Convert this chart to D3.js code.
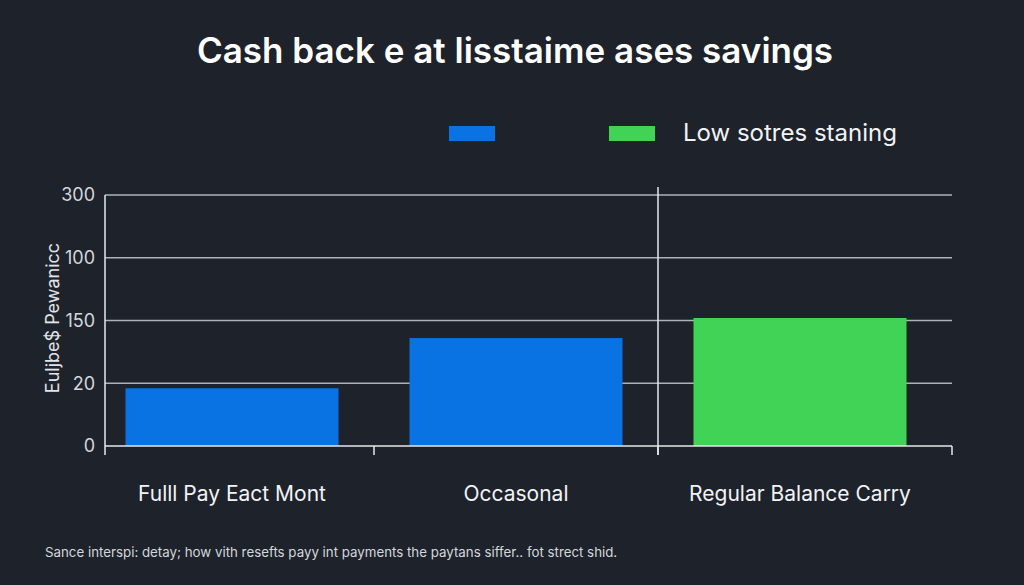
<!DOCTYPE html>
<html>
<head>
<meta charset="utf-8">
<script src="https://cdn.jsdelivr.net/npm/d3@7"></script>
<style>
	html, body { margin: 0; padding: 0; background: #1d222b; }
	svg { display: block; font-family: "Inter", "Noto Sans", sans-serif; }
</style>
</head>
<body>
<svg id="chart" width="1024" height="585"></svg>
<script>
// chart data
const categories = ["Fulll Pay Eact Mont", "Occasonal", "Regular Balance Carry"];
const levels = [0.92, 1.72, 2.04]; // bar heights, in tick steps
const barSeries = ["blue", "blue", "green"];
const tickLabels = ["0", "20", "150", "100", "300"];
const legendLabels = ["", "Low sotres staning"];

const colors = { blue: "#0a73e4", green: "#41d356" };

const svg = d3.select("#chart");
const plotLeft = 105, plotRight = 952, plotTop = 195, plotBottom = 446;

// scales
const y = d3.scaleLinear()
	.domain([0, tickLabels.length - 1])
	.range([plotBottom, plotTop]);

const x = d3.scaleBand()
	.domain(categories)
	.range([90, 942])
	.paddingInner(0.25)
	.paddingOuter(0.125);

// title
svg.append("text")
	.attr("x", 515)
	.attr("y", 63)
	.attr("text-anchor", "middle")
	.attr("fill", "#ffffff")
	.attr("font-size", 35)
	.attr("font-weight", 600)
	.text("Cash back e at lisstaime ases savings");

// legend
const legend = svg.append("g").attr("id", "legend");
const legendX = [449, 609];
legendLabels.forEach((label, i) => {
	legend.append("rect")
		.attr("x", legendX[i])
		.attr("y", 126)
		.attr("width", 46)
		.attr("height", 15)
		.attr("fill", i === 0 ? colors.blue : colors.green);
	legend.append("text")
		.attr("x", legendX[i] + 74)
		.attr("y", 141)
		.attr("fill", "#f2f3f5")
		.attr("font-size", 24)
		.text(label);
});

// gridlines
svg.append("g")
	.attr("id", "grid")
	.selectAll("line")
	.data(d3.range(1, tickLabels.length))
	.join("line")
	.attr("x1", plotLeft)
	.attr("x2", plotRight)
	.attr("y1", d => y(d))
	.attr("y2", d => y(d))
	.attr("stroke", "#aeb2b8")
	.attr("stroke-width", 1.5);

// bars
svg.append("g")
	.attr("id", "bars")
	.selectAll("rect")
	.data(categories)
	.join("rect")
	.attr("x", d => x(d))
	.attr("y", (d, i) => y(levels[i]))
	.attr("width", x.bandwidth())
	.attr("height", (d, i) => y(0) - y(levels[i]))
	.attr("fill", (d, i) => colors[barSeries[i]]);

// y axis
const yAxis = svg.append("g")
	.attr("transform", `translate(${plotLeft},0)`)
	.call(d3.axisLeft(y)
		.tickValues(d3.range(tickLabels.length))
		.tickFormat(i => tickLabels[i])
		.tickSize(0)
		.tickPadding(10));
yAxis.select(".domain").remove();
yAxis.selectAll("text")
	.attr("fill", "#d4d7dc")
	.attr("font-size", 18)
	.attr("font-family", "Inter, sans-serif");
svg.append("line")
	.attr("x1", plotLeft).attr("x2", plotLeft)
	.attr("y1", plotTop).attr("y2", plotBottom + 9)
	.attr("stroke", "#e6e8eb")
	.attr("stroke-width", 1.5);

// x axis baseline and ticks at band boundaries
svg.append("line")
	.attr("x1", plotLeft).attr("x2", plotRight)
	.attr("y1", plotBottom).attr("y2", plotBottom)
	.attr("stroke", "#e6e8eb")
	.attr("stroke-width", 1.5);
const step = x.step();
const bounds = categories.slice(1).map(d => x(d) - step * x.paddingInner() / 2);
svg.append("g")
	.selectAll("line")
	.data(bounds.concat([plotRight]))
	.join("line")
	.attr("x1", d => d).attr("x2", d => d)
	.attr("y1", plotBottom).attr("y2", plotBottom + 9)
	.attr("stroke", "#e6e8eb")
	.attr("stroke-width", 1.5);
// separator before the last group
svg.append("line")
	.attr("x1", bounds[1]).attr("x2", bounds[1])
	.attr("y1", 187).attr("y2", plotBottom + 9)
	.attr("stroke", "#e6e8eb")
	.attr("stroke-width", 1.5);

// category labels
svg.append("g")
	.selectAll("text")
	.data(categories)
	.join("text")
	.attr("x", d => x(d) + x.bandwidth() / 2)
	.attr("y", 501)
	.attr("text-anchor", "middle")
	.attr("fill", "#f2f3f5")
	.attr("font-size", 21)
	.text(d => d);

// y axis title
svg.append("text")
	.attr("transform", "translate(59,318) rotate(-90)")
	.attr("text-anchor", "middle")
	.attr("fill", "#e2e4e8")
	.attr("font-size", 18)
	.text("Euljbe$ Pewanicc");

// footnote
svg.append("text")
	.attr("x", 45)
	.attr("y", 557)
	.attr("fill", "#d4d7dc")
	.attr("font-size", 13.3)
	.text("Sance interspi: detay; how vith resefts payy int payments the paytans siffer.. fot strect shid.");
</script>
</body>
</html>
